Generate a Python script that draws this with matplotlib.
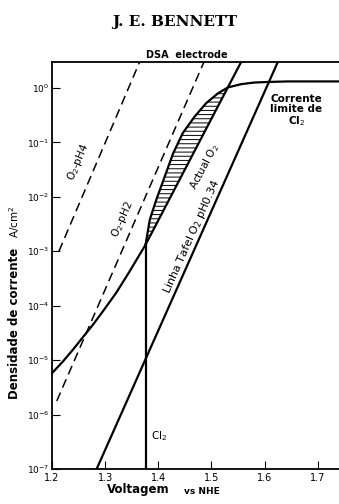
import numpy as np
import matplotlib
matplotlib.use('Agg')
from matplotlib import pyplot as plt

# lines: voltage (V vs NHE) and log10 of current density
ph4_v = [1.213, 1.365]
ph4_log = [-3.0, 0.48]
ph2_v = [1.209, 1.486]
ph2_log = [-5.75, 0.48]
tafel_v = [1.284, 1.625]
tafel_log = [-7.0, 0.48]
actual_line_v = [1.376, 1.556]
actual_line_log = [-2.88, 0.48]

# actual O2 curve, lower part (below the kink)
low_v = [1.2, 1.221, 1.240, 1.258, 1.277, 1.296, 1.321, 1.346, 1.376]
low_log = [-5.24, -5.02, -4.80, -4.58, -4.35, -4.10, -3.76, -3.37, -2.88]

# actual O2 curve, upper part, bending into the Cl2 limiting current
up_v = [1.376, 1.384, 1.396, 1.412, 1.428, 1.446, 1.468, 1.490, 1.512, 1.531,
        1.556, 1.581, 1.606, 1.643, 1.74]
up_log = [-2.88, -2.42, -2.06, -1.63, -1.20, -0.83, -0.53, -0.28, -0.10, 0.01,
          0.07, 0.10, 0.11, 0.12, 0.12]
n_hatch = 10  # points of up_* that bound the hatched region

cl2_v = 1.376
cl2_log = [-7.0, -2.88]

xticks = [1.2, 1.3, 1.4, 1.5, 1.6, 1.7]
xticklabels = ['1.2', '1.3', '1.4', '1.5', '1.6', '1.7']
yexp = [0, -1, -2, -3, -4, -5, -6, -7]

W, H = 339, 504
fig = plt.figure(figsize=(W/100., H/100.), dpi=100)
ax = fig.add_axes([52./W, 35./H, 287./W, 407./H])

def p(l):
    return 10.**np.array(l)

lw = 1.6
ax.plot(ph4_v, p(ph4_log), color='k', lw=1.1, dashes=(6, 3.5))
ax.plot(ph2_v, p(ph2_log), color='k', lw=1.1, dashes=(6, 3.5))
ax.plot(tafel_v, p(tafel_log), color='k', lw=lw)
ax.plot(actual_line_v, p(actual_line_log), color='k', lw=lw)
ax.plot(low_v, p(low_log), color='k', lw=lw, solid_joinstyle='round')
ax.plot(up_v, p(up_log), color='k', lw=lw, solid_joinstyle='round')
ax.plot([cl2_v, cl2_v], p(cl2_log), color='k', lw=lw)

# hatched region between the curved and straight actual-O2 branches
hy = np.array(up_log[:n_hatch])
slope = (actual_line_log[1]-actual_line_log[0])/(actual_line_v[1]-actual_line_v[0])
hx_right = actual_line_v[0] + (hy-actual_line_log[0])/slope
plt.rcParams['hatch.linewidth'] = 0.7
ax.fill_betweenx(p(hy), up_v[:n_hatch], hx_right, facecolor='none', edgecolor='k',
                 hatch='----', linewidth=0)

ax.set_yscale('log')
ax.set_xlim(1.2, 1.74)
ax.set_ylim(1e-7, 10**0.477)
ax.set_xticks(xticks)
ax.set_xticklabels(xticklabels, fontsize=7)
ax.set_yticks(p(yexp))
ax.set_yticklabels(['$10^{%d}$' % e for e in yexp], fontsize=6.5)
ax.minorticks_off()
ax.tick_params(direction='in', length=6, width=0.8, pad=3)
ax.tick_params(axis='y', pad=2)
ax.spines['right'].set_visible(False)
for s in ['left', 'top', 'bottom']:
    ax.spines[s].set_linewidth(1.3)

# labels along the lines
ax.text(1.249, 10**-1.36, 'O$_2$-pH4', rotation=67, fontsize=7.5, ha='center', va='center')
ax.text(1.333, 10**-2.42, 'O$_2$-pH2', rotation=66, fontsize=7.5, ha='center', va='center')
ax.text(1.488, 10**-1.45, 'Actual O$_2$', rotation=62, fontsize=7.5, ha='center', va='center')
ax.text(1.463, 10**-2.73, 'Linha Tafel O$_2$ pH0.34', rotation=66, fontsize=8,
        ha='center', va='center')
ax.text(1.387, 10**-6.4, 'Cl$_2$', fontsize=7.5, ha='left', va='center')
ax.text(1.66, 10**-0.42, 'Corrente\nlimite de\nCl$_2$', fontsize=7.5, fontweight='bold',
        ha='center', va='center', linespacing=1.0)

def fx(px):
    return px/float(W)

def fy(py):
    return 1 - py/float(H)

fig.text(fx(175), fy(22), 'J. E. BENNETT', family='DejaVu Serif', fontweight='bold',
         fontsize=11, ha='center', va='center')
fig.text(fx(187), fy(55), 'DSA  electrode', fontweight='bold', fontsize=7,
         ha='center', va='center')
fig.text(fx(138), fy(489), 'Voltagem', fontweight='bold', fontsize=8.5,
         ha='center', va='center')
fig.text(fx(202), fy(491), 'vs NHE', fontweight='bold', fontsize=6.5,
         ha='center', va='center')
fig.text(fx(15), fy(323), 'Densidade de corrente', fontweight='bold', fontsize=8.5,
         rotation=90, ha='center', va='center')
fig.text(fx(15), fy(222), 'A/cm$^2$', fontsize=7.5, rotation=90, ha='center', va='center')

fig.savefig('out.png', dpi=100)
